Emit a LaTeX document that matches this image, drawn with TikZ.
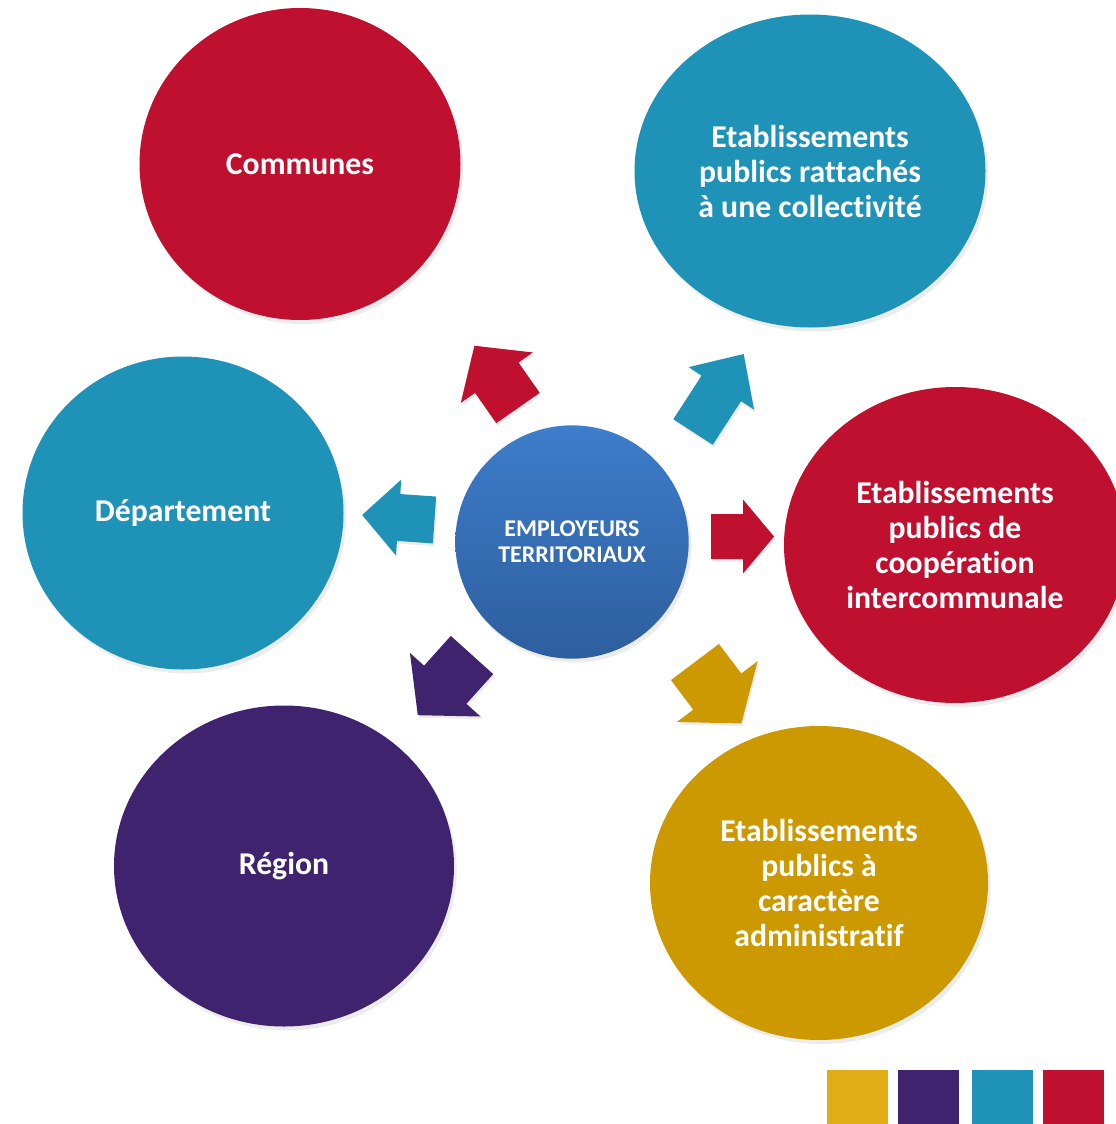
\documentclass[tikz,border=0pt]{standalone}
\usepackage{fontspec}
\setmainfont{Carlito}[Ligatures=NoCommon]
\usetikzlibrary{shapes.geometric,shadows}

\definecolor{rouge}{RGB}{192,16,48}
\definecolor{bleu}{RGB}{31,146,184}
\definecolor{violet}{RGB}{64,35,110}
\definecolor{ocre}{RGB}{204,153,0}
\definecolor{jaune}{RGB}{224,173,22}
\definecolor{bleuhaut}{RGB}{61,125,202}
\definecolor{bleubas}{RGB}{46,94,158}

\tikzset{
  bulle/.style={ellipse, inner sep=0pt, outer sep=0pt, text=white, align=center,
    font=\fontsize{23.8}{26.25}\selectfont\bfseries,
    drop shadow={shadow xshift=2pt, shadow yshift=-3pt, opacity=.15}},
  ombre/.style={drop shadow={shadow xshift=1pt, shadow yshift=-2pt, opacity=.15}}
}

% fleche bloc : x, y (milieu de la queue), angle, longueur, fut, tete, long. tete, couleur
\newcommand{\flecheBloc}[8]{%
  \fill[#8, ombre, shift={(#1,#2)}, rotate=#3]
    (0,-#5/2) -- (#4-#7,-#5/2) -- (#4-#7,-#6/2) -- (#4,0)
    -- (#4-#7,#6/2) -- (#4-#7,#5/2) -- (0,#5/2) -- cycle;}

\begin{document}
\begin{tikzpicture}[x=0.75pt,y=-0.75pt]
    \fill[white] (0,0) rectangle (1116,1124);
    \useasboundingbox (0,0) rectangle (1116,1124);
    % ------ Les six employeurs -----------------
    \node [bulle, fill=rouge, minimum width=240.75pt, minimum height=234pt]
      (communes) at (300,164) {Communes};
    \node [bulle, fill=bleu, minimum width=263.25pt, minimum height=234.75pt]
      (rattaches) at (810,171) {Etablissements\\publics rattachés\\à une collectivité};
    \node [bulle, fill=bleu, minimum width=240.75pt, minimum height=234.75pt]
      (departement) at (183,513) {Département};
    \node [bulle, fill=rouge, minimum width=256.5pt, minimum height=237pt]
      (epci) at (955,545) {Etablissements\\publics de\\coopération\\intercommunale};
    \node [bulle, fill=ocre, minimum width=253.5pt, minimum height=235.5pt]
      (epa) at (819,883) {Etablissements\\publics à\\caractère\\administratif};
    \node [bulle, fill=violet, minimum width=255pt, minimum height=240.75pt]
      (region) at (284,866) {Région};
    % ------ Centre -----------------
    \node [circle, minimum size=175pt, inner sep=0pt, top color=bleuhaut, bottom color=bleubas,
      text=white, align=center, font=\fontsize{18}{19.5}\selectfont\bfseries,
      drop shadow={shadow xshift=2pt, shadow yshift=-3pt, opacity=.15}]
      (centre) at (572,542) {EMPLOYEURS\\TERRITORIAUX};
    % ------ Fleches -----------------
    \flecheBloc{518}{408}{125}{76}{53}{88}{39}{rouge}
    \flecheBloc{693}{432}{57}{93}{47}{78}{41}{bleu}
    \flecheBloc{434.5}{520}{176}{72.5}{47}{76}{36.5}{bleu}
    \flecheBloc{711}{536.5}{0}{63}{45}{74}{31}{rouge}
    \flecheBloc{472}{655}{228}{81}{57}{95}{41}{violet}
    \flecheBloc{695}{662}{-53}{77}{60}{101}{40}{ocre}
    % ------ Carres de couleur -----------------
    \fill [jaune] (827,1070) rectangle (888,1124);
    \fill [violet] (898,1070) rectangle (959,1124);
    \fill [bleu] (972,1070) rectangle (1033,1124);
    \fill [rouge] (1043,1070) rectangle (1104,1124);
\end{tikzpicture}
\end{document}
